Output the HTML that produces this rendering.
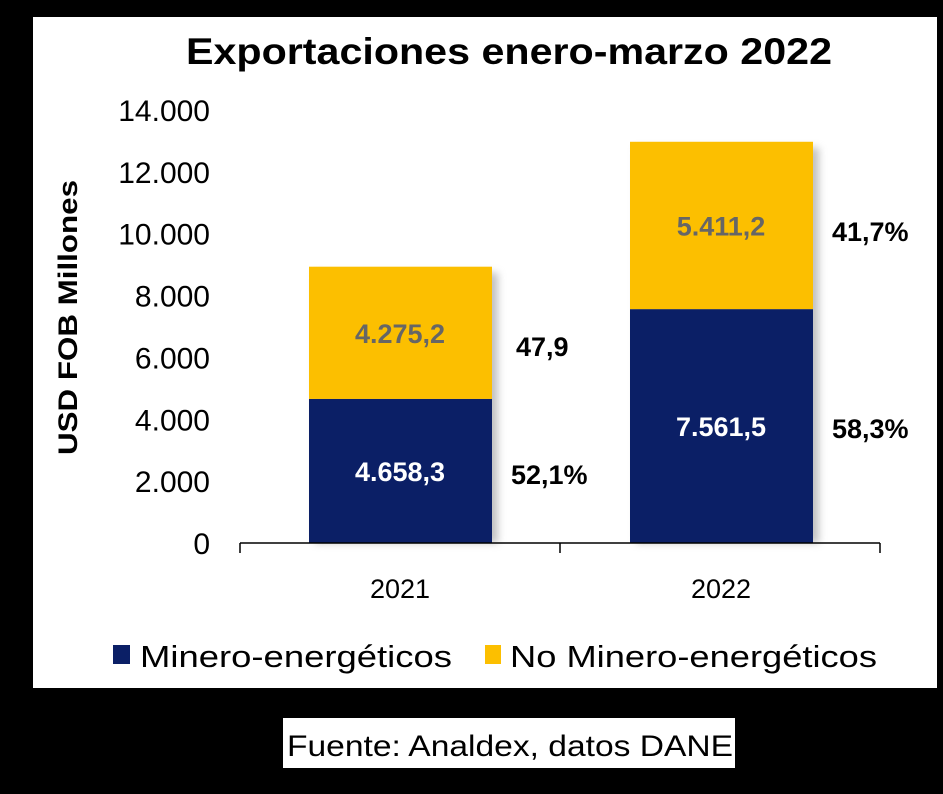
<!DOCTYPE html>
<html><head><meta charset="utf-8"><style>
body{margin:0;background:#000;width:943px;height:789px;overflow:hidden;font-family:"Liberation Sans",sans-serif}
</style></head><body>
<svg width="943" height="789">
<defs><filter id="sh" x="-10%" y="-10%" width="130%" height="130%"><feGaussianBlur stdDeviation="4"/></filter></defs>
<rect x="33" y="17" width="904" height="671" fill="#fff"/>
<rect x="937" y="20" width="6" height="26" fill="#000"/>
<text x="186" y="64" textLength="646" lengthAdjust="spacingAndGlyphs" font-size="37" font-weight="bold" fill="#000">Exportaciones enero-marzo 2022</text>
<text transform="translate(77,455) rotate(-90)" textLength="275" lengthAdjust="spacingAndGlyphs" font-size="27" font-weight="bold">USD FOB Millones</text>
<g id="yt"></g><g id="bars"></g>
<line x1="240" y1="543" x2="880" y2="543" stroke="#000" stroke-width="1.5"/>
<text x="400" y="598" text-anchor="middle" font-size="27">2021</text>
<text x="721" y="598" text-anchor="middle" font-size="27">2022</text>
<rect x="113" y="645" width="17" height="19" fill="#0b1f66"/>
<text x="140" y="667" textLength="312" lengthAdjust="spacingAndGlyphs" font-size="31">Minero-energéticos</text>
<rect x="485" y="645" width="16" height="19" fill="#fcbf00"/>
<text x="510" y="667" textLength="367" lengthAdjust="spacingAndGlyphs" font-size="31">No Minero-energéticos</text>
<rect x="283" y="718" width="452" height="50" fill="#fff"/>
<text x="287" y="756" textLength="446" lengthAdjust="spacingAndGlyphs" font-size="30">Fuente: Analdex, datos DANE</text>
</svg>
<script>
const categories=["2021","2022"];
const minero=[4658.3,7561.5];
const noMinero=[4275.2,5411.2];
const mineroLabels=["4.658,3","7.561,5"];
const noMineroLabels=["4.275,2","5.411,2"];
const pctMinero=["52,1%","58,3%"];
const pctNoMinero=["47,9","41,7%"];
const ticks=[0,2000,4000,6000,8000,10000,12000,14000];
const tickLabels=["0","2.000","4.000","6.000","8.000","10.000","12.000","14.000"];
const NS="http://www.w3.org/2000/svg";
const y=v=>543-v*(433/14000);
const xc=i=>400+i*321;
function mk(t,a,p){const e=document.createElementNS(NS,t);for(const k in a)e.setAttribute(k,a[k]);p.appendChild(e);return e;}
const yt=document.getElementById('yt'),bars=document.getElementById('bars');
ticks.forEach((t,i)=>{const e=mk('text',{x:210,y:y(t)+11,'text-anchor':'end','font-size':30,fill:'#000'},yt);e.textContent=tickLabels[i];

});
[240,560,880].forEach(x=>{const l=mk('line',{x1:x,y1:543,x2:x,y2:553,stroke:'#000','stroke-width':1.5},yt);

});
categories.forEach((c,i)=>{
 const x0=xc(i)-91,w=183,tot=minero[i]+noMinero[i];
 mk('rect',{x:x0+6,y:y(tot)+6,width:w,height:y(0)-y(tot)-6,fill:'#999',opacity:0.6,filter:'url(#sh)'},bars);
 const b1=mk('rect',{x:x0,y:y(minero[i]),width:w,height:y(0)-y(minero[i]),fill:'#0b1f66'},bars);
 
 
 const b2=mk('rect',{x:x0,y:y(tot),width:w,height:y(minero[i])-y(tot),fill:'#fcbf00'},bars);
 
 
 const t1=mk('text',{x:xc(i),y:(y(0)+y(minero[i]))/2+10,'text-anchor':'middle','font-size':27,'font-weight':'bold',fill:'#fff'},bars);t1.textContent=mineroLabels[i];
 
 
 const t2=mk('text',{x:xc(i),y:(y(minero[i])+y(tot))/2+10,'text-anchor':'middle','font-size':27,'font-weight':'bold',fill:'#666'},bars);t2.textContent=noMineroLabels[i];
 
 
 const px=xc(i)+111;
 const p1=mk('text',{x:px,y:i==0?484:438,'font-size':27,'font-weight':'bold',fill:'#000'},bars);p1.textContent=pctMinero[i];
 
 
 const p2=mk('text',{x:i==0?px+5:px,y:i==0?356:241,'font-size':27,'font-weight':'bold',fill:'#000'},bars);p2.textContent=pctNoMinero[i];
 
 
});
</script>
</body></html>
